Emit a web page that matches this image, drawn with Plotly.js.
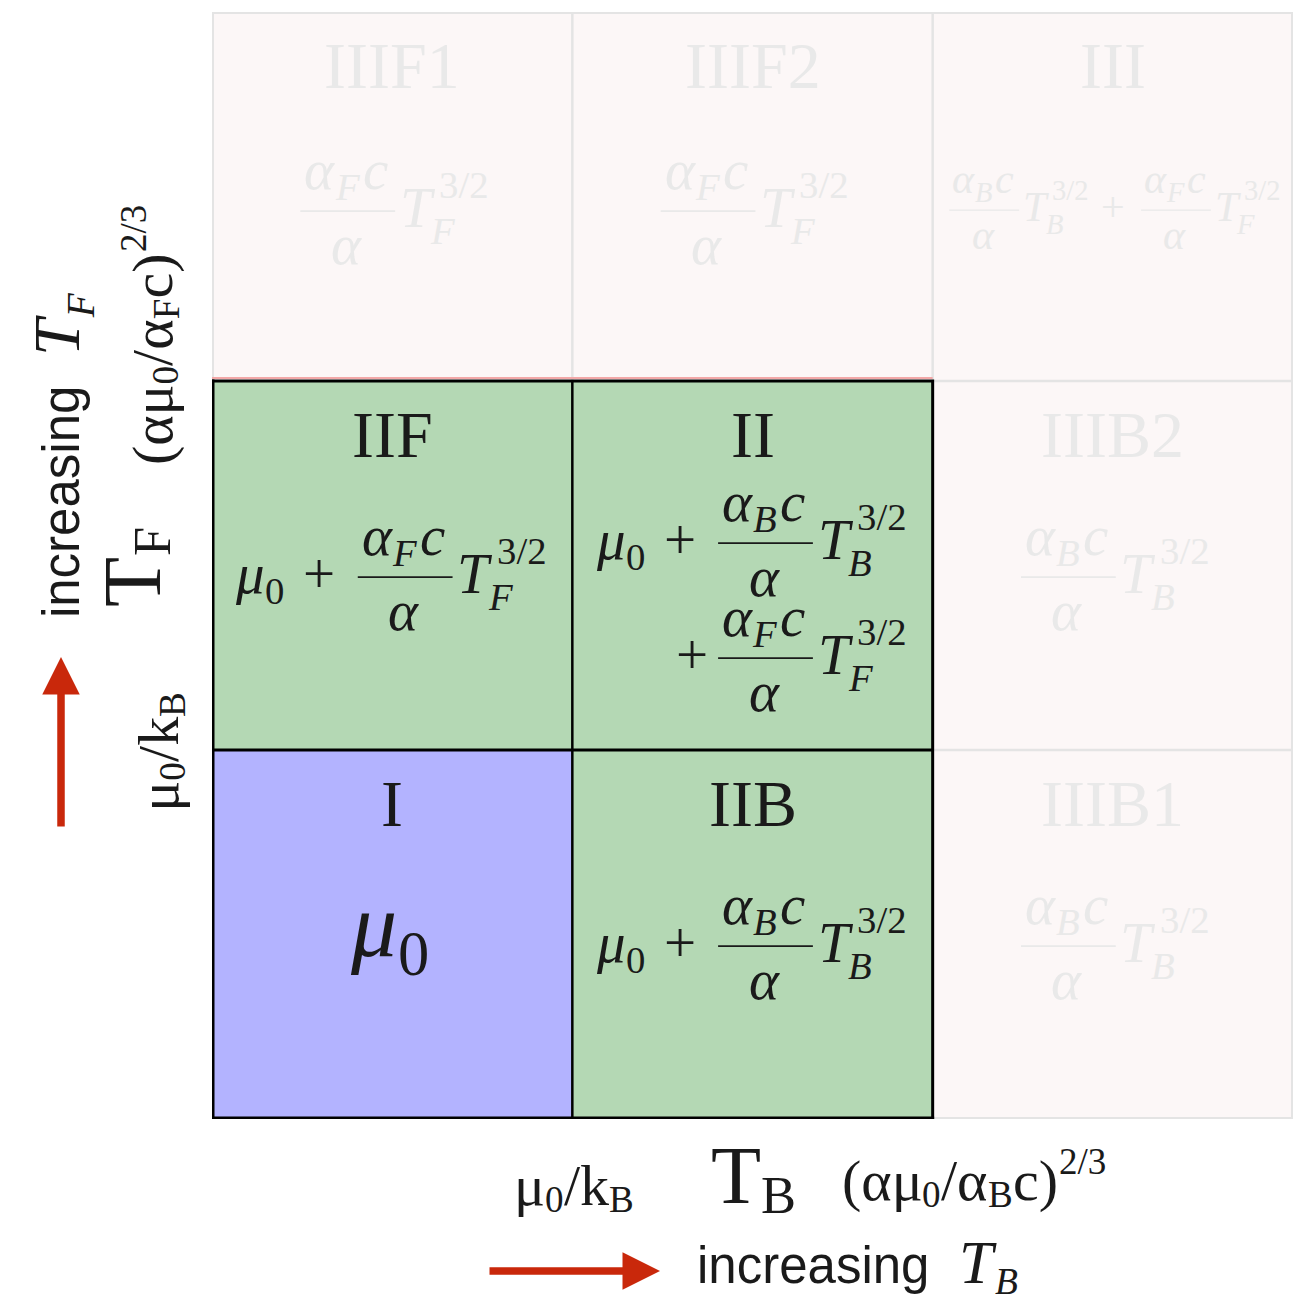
<!DOCTYPE html>
<html><head><meta charset="utf-8">
<script src="https://cdn.plot.ly/plotly-3.0.1.min.js"></script>
<style>html,body{margin:0;padding:0;background:#fff}#chart{width:1302px;height:1301px}</style>
</head><body><div id="chart"></div>
<script>
// ================= DATA =================
// grid of regimes, rows listed bottom -> top, columns left -> right (increasing T_B)
const xCenters = [0.5, 1.5, 2.5];
const yCenters = [0.5, 1.5, 2.5];
const regionNames = [
  ['I',     'IIB',   'IIIB1'],
  ['IIF',   'II',    'IIIB2'],
  ['IIIF1', 'IIIF2', 'III']
];
// 0 = faded (regime III), 1 = regime I, 2 = regime II
const regionKind = [
  [1, 2, 0],
  [2, 2, 0],
  [0, 0, 0]
];
const kindColors = ['#fcf7f7', '#b3b3ff', '#b4d8b4'];

// token helpers for formulas (text content only)
const R = (t, sc) => ({k: 't', t, it: false, sc});
const I = (t, sc) => ({k: 't', t, it: true, sc});
const S = (t, sc) => ({k: 't', t, it: false, sans: true, sc});
const SUB = (...c) => ({k: 'sub', c});
const SUP = (...c) => ({k: 'sup', c});
const SS = (sup, sub) => ({k: 'ss', sup, sub});
const FRAC = (num, den) => ({k: 'frac', num, den});
const BIN = t => ({k: 'bin', t});
const SP = em => ({k: 'sp', em});

const MU0 = [I('μ'), SUB(R('0'))];
const fracB = FRAC([I('α'), SUB(I('B')), I('c')], [I('α')]);
const fracF = FRAC([I('α'), SUB(I('F')), I('c')], [I('α')]);
const TB32 = [I('T'), SS([R('3/2')], [I('B')])];
const TF32 = [I('T'), SS([R('3/2')], [I('F')])];

// formula lines per region (rows bottom -> top)
const regionFormula = [
  [ [MU0], [[...MU0, BIN('+'), fracB, ...TB32]], [[fracB, ...TB32]] ],
  [ [[...MU0, BIN('+'), fracF, ...TF32]],
    [[...MU0, BIN('+'), fracB, ...TB32], [R('+'), fracF, ...TF32]],
    [[fracB, ...TB32]] ],
  [ [[fracF, ...TF32]], [[fracF, ...TF32]], [[fracB, ...TB32, BIN('+'), fracF, ...TF32]] ]
];

// axis captions
const bottomMu    = [R('μ'), SUB(R('0')), R('/k'), SUB(R('B'))];
const bottomT     = [R('T'), SUB(R('B'))];
const bottomScale = [R('(αμ'), SUB(R('0')), R('/α'), SUB(R('B')), R('c)'), SUP(R('2/3'))];
const bottomInc   = [S('increasing'), SP(0.62), I('T', 1.2), {k:'sub', c:[I('B', 1.15)], drop:0.22}];
const leftMu      = [R('μ'), SUB(R('0')), R('/k'), SUB(R('B'))];
const leftT       = [R('T'), SUB(R('F'))];
const leftScale   = [R('(αμ'), SUB(R('0')), R('/α'), SUB(R('F')), R('c)'), SUP(R('2/3'))];
const leftInc     = [S('increasing'), SP(0.62), I('T', 1.3), {k:'sub', c:[I('F', 1.2)], drop:0.28}];

// ================= LAYOUT ENGINE =================
const ctx2d = document.createElement('canvas').getContext('2d');
function tw(t, size, it, fam) { ctx2d.font = (it ? 'italic ' : '') + size + 'px ' + fam; return ctx2d.measureText(t).width; }
const SERIF = '"Liberation Serif", "Times New Roman", serif';
const narrowOK = Math.abs(tw('increasing mmm', 40, false, '"Liberation Sans Narrow", monospace') - tw('increasing mmm', 40, false, 'monospace')) > 0.5;
const SANS = narrowOK ? '"Liberation Sans Narrow", "Liberation Sans", sans-serif' : '"Liberation Sans", Arial, sans-serif';
const SANS_SIZE = narrowOK ? 62 : 51;
const CENTER_K = {serif: 0.3375, sans: 0.3465};

const P_MATH = {scr: 0.68, subKern: 0.01, subDrop: 0.2, supKern: 0.03, supRise: 0.45,
  ssSupKern: 0.1, ssRise: 0.5, ssSubKern: -0.05, ssDrop: 0.3, binSp: 0.27,
  fracSp: 0.12, barExt: 0.08, axis: 0.27, numUp: 0.4, denDown: 0.92, barW: 0.032, gap: 0.05};
const P_TEXT = Object.assign({}, P_MATH, {scr: 0.64, subKern: 0, subDrop: 0.12, supRise: 0.45, supKern: 0.02, gap: 0});

function lay(tokens, s, x, base, out, P) {
  tokens.forEach((tk, idx) => {
    const next = tokens[idx + 1];
    const attached = next && (next.k === 'sub' || next.k === 'sup' || next.k === 'ss');
    if (tk.k === 't') {
      const fam = tk.sans ? SANS : SERIF;
      const sz = s * (tk.sc || 1);
      const w = tw(tk.t, sz, tk.it, fam);
      if (out) out.texts.push({t: tk.t, s: sz, it: tk.it, fam, sans: !!tk.sans, x, base, w});
      x += w + (attached ? 0 : P.gap * sz);
    } else if (tk.k === 'sp') {
      x += tk.em * s;
    } else if (tk.k === 'bin') {
      x += P.binSp * s;
      const w = tw(tk.t, s, false, SERIF);
      if (out) out.texts.push({t: tk.t, s, it: false, fam: SERIF, x, base, w});
      x += w + P.binSp * s;
    } else if (tk.k === 'sub') {
      x = lay(tk.c, s * P.scr, x + P.subKern * s, base + (tk.drop !== undefined ? tk.drop : P.subDrop) * s, out, P);
      x += P.gap * s * 0.5;
    } else if (tk.k === 'sup') {
      x = lay(tk.c, s * P.scr, x + P.supKern * s, base - P.supRise * s, out, P);
    } else if (tk.k === 'ss') {
      const a = lay(tk.sup, s * P.scr, x + P.ssSupKern * s, base - P.ssRise * s, out, P);
      const b = lay(tk.sub, s * P.scr, x + P.ssSubKern * s, base + P.ssDrop * s, out, P);
      x = Math.max(a, b);
    } else if (tk.k === 'frac') {
      const nw = lay(tk.num, s, 0, 0, null, P), dw = lay(tk.den, s, 0, 0, null, P);
      const bw = Math.max(nw, dw) + 2 * P.barExt * s;
      const x0 = x + P.fracSp * s;
      const barY = base - P.axis * s;
      if (out) {
        if (out.fracX === undefined) out.fracX = x0;
        lay(tk.num, s, x0 + (bw - nw) / 2, barY - P.numUp * s, out, P);
        lay(tk.den, s, x0 + (bw - dw) / 2, barY + P.denDown * s, out, P);
        out.bars.push({x0, x1: x0 + bw, y: barY, lw: Math.max(1.2, P.barW * s)});
      }
      x = x0 + bw + P.fracSp * s;
    }
  });
  return x;
}
function block(tokens, s, P) {
  const out = {texts: [], bars: []};
  out.w = lay(tokens, s, 0, 0, out, P);
  return out;
}

const annotations = [];
const shapes = [];
// place a laid-out block. anchor {xref,yref,x,y}; (OX,OY) screen offset of block origin (text start, baseline)
function place(b, anchor, OX, OY, color, rot) {
  for (const t of b.texts) {
    const uc = t.x + t.w / 2;
    const vc = t.base - (t.sans ? CENTER_K.sans : CENTER_K.serif) * t.s;
    const dx = rot ? OX + vc : OX + uc;
    const dy = rot ? OY - uc : OY + vc;
    annotations.push({
      xref: anchor.xref, yref: anchor.yref, x: anchor.x, y: anchor.y,
      xshift: dx, yshift: -dy, xanchor: 'center', yanchor: 'middle',
      text: t.it ? '<i>' + t.t + '</i>' : t.t, showarrow: false, borderpad: 0,
      textangle: rot ? -90 : 0,
      font: {family: t.fam, size: t.s, color}
    });
  }
  if (!rot) for (const br of b.bars) {
    shapes.push({type: 'line', xref: anchor.xref, yref: anchor.yref,
      xsizemode: 'pixel', ysizemode: 'pixel', xanchor: anchor.x, yanchor: anchor.y,
      x0: OX + br.x0, x1: OX + br.x1, y0: -(OY + br.y), y1: -(OY + br.y),
      line: {color, width: br.lw}});
  }
}

// ================= GRID LINES =================
const GREY = '#e4e4e4', BLACK = '#000000', DARK = '#1a1a1a', FADED = '#e9e9e9', RED = '#c9280b';
function seg(x0, y0, x1, y1, color, width) {
  shapes.push({type: 'line', xref: 'x', yref: 'y', x0, y0, x1, y1, line: {color, width}});
}
// faded outline + internal lines
shapes.push({type: 'rect', xref: 'x', yref: 'y', x0: 0, y0: 0, x1: 3, y1: 3, line: {color: GREY, width: 4}});
seg(1, 2, 1, 3, GREY, 2.5); seg(2, 2, 2, 3, GREY, 2.5);
seg(2, 1, 3, 1, GREY, 2.5); seg(2, 2, 3, 2, GREY, 2.5);
// thin pink line above the green block
shapes.push({type: 'line', xref: 'x', yref: 'y', ysizemode: 'pixel', yanchor: 2, x0: 0, x1: 2, y0: 3, y1: 3, line: {color: '#f3a8a8', width: 2}});
// black frame of regions I and II
shapes.push({type: 'rect', xref: 'x', yref: 'y', x0: 0, y0: 0, x1: 2, y1: 2, line: {color: BLACK, width: 3}});
seg(1, 0, 1, 2, BLACK, 2.5); seg(0, 1, 2, 1, BLACK, 3);
seg(0, -0.004, 0, 2.004, BLACK, 5); seg(-0.004, 0, 2.004, 0, BLACK, 5);

// ================= CELL TEXT =================
const LABEL_SIZE = 66, LABEL_BASE = -109;
const formulaSize = {I: 92, III: 42};
const formulaBase = {I: [22], II: [-7, 108], III: [25], IIIF1: [30], IIIF2: [30]};
for (let r = 0; r < 3; r++) for (let c = 0; c < 3; c++) {
  const name = regionNames[r][c];
  const color = regionKind[r][c] === 0 ? FADED : DARK;
  const anchor = {xref: 'x', yref: 'y', x: xCenters[c], y: yCenters[r]};
  const lb = block([R(name)], LABEL_SIZE, P_TEXT);
  place(lb, anchor, -lb.w / 2, LABEL_BASE, color, false);
  const s = formulaSize[name] || 57;
  const bases = formulaBase[name] || [27];
  const lines = regionFormula[r][c];
  let firstFracX = null, firstStart = null;
  lines.forEach((ln, i) => {
    const b = block(ln, s, P_MATH);
    let start;
    if (i === 0) { start = -b.w / 2; firstStart = start; firstFracX = b.fracX; }
    else { start = firstStart + firstFracX - b.fracX; }
    place(b, anchor, start, bases[i], color, false);
  });
}

// ================= AXIS CAPTIONS =================
const PX0 = 212, PY0 = 1119; // paper (0,0) in pixels
const paperAnchor = {xref: 'paper', yref: 'paper', x: 0, y: 0};
function placeH(tokens, s, P, x, baseY, align) {
  const b = block(tokens, s, P);
  const start = align === 'center' ? x - b.w / 2 : x;
  place(b, paperAnchor, start - PX0, baseY - PY0, DARK, false);
}
function placeV(tokens, s, P, y, baseX, align) {
  const b = block(tokens, s, P);
  const start = align === 'center' ? y + b.w / 2 : y;
  place(b, paperAnchor, baseX - PX0, start - PY0, DARK, true);
}
placeH(bottomMu, 58, P_TEXT, 574, 1205, 'center');
placeH(bottomT, 82, P_TEXT, 753, 1203, 'center');
placeH(bottomScale, 58, P_TEXT, 974, 1200, 'center');
placeH(bottomInc, SANS_SIZE, P_TEXT, 697, 1283, 'start');
placeV(leftMu, 58, P_TEXT, 752, 178, 'center');
placeV(leftT, 82, P_TEXT, 567, 160, 'center');
placeV(leftScale, 58, P_TEXT, 335, 172, 'center');
placeV(leftInc, SANS_SIZE, P_TEXT, 618, 79, 'start');

// arrows
annotations.push({xref: 'paper', yref: 'paper', x: 0, y: 0, xshift: 660 - PX0, yshift: -(1271 - PY0),
  ax: -172, ay: 0, text: '', showarrow: true, arrowhead: 2, arrowsize: 1, arrowwidth: 7.5, arrowcolor: RED, standoff: 0});
annotations.push({xref: 'paper', yref: 'paper', x: 0, y: 0, xshift: 61 - PX0, yshift: -(657 - PY0),
  ax: 0, ay: 171, text: '', showarrow: true, arrowhead: 2, arrowsize: 1, arrowwidth: 7.5, arrowcolor: RED, standoff: 0});

// ================= PLOT =================
const trace = {
  type: 'heatmap', x: xCenters, y: yCenters, z: regionKind,
  zmin: 0, zmax: 2, showscale: false, hoverinfo: 'skip',
  colorscale: [[0, kindColors[0]], [0.3333, kindColors[0]], [0.3333, kindColors[1]],
               [0.6667, kindColors[1]], [0.6667, kindColors[2]], [1, kindColors[2]]]
};
const layout = {
  width: 1302, height: 1301,
  margin: {l: 212, r: 9, t: 12, b: 182, pad: 0},
  paper_bgcolor: '#ffffff', plot_bgcolor: '#ffffff',
  xaxis: {range: [0, 3], visible: false, fixedrange: true},
  yaxis: {range: [0, 3], visible: false, fixedrange: true},
  showlegend: false,
  annotations, shapes
};
Plotly.newPlot('chart', [trace], layout, {displayModeBar: false, staticPlot: true});
</script>
</body></html>
